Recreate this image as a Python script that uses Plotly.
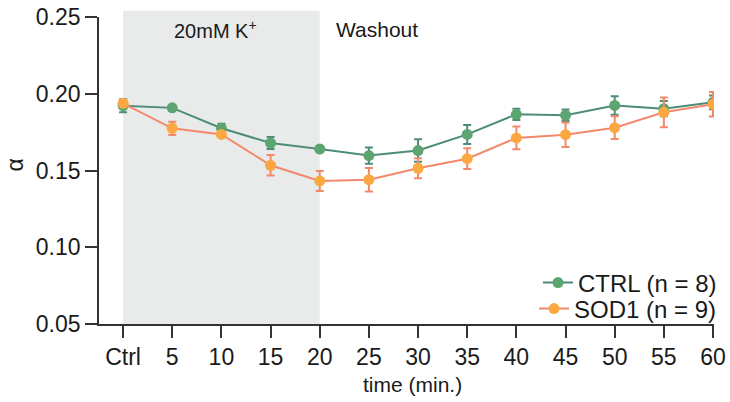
import plotly.graph_objects as go

tick_labels = ["Ctrl", "5", "10", "15", "20", "25", "30", "35", "40", "45", "50", "55", "60"]
x_pos = list(range(len(tick_labels)))

ctrl_mean = [0.1922, 0.1908, 0.1775, 0.1679, 0.1640, 0.1597, 0.1630, 0.1735, 0.1866, 0.1860, 0.1924, 0.1903, 0.1944]
ctrl_err = [0.0042, 0.0008, 0.0030, 0.0039, 0.0012, 0.0053, 0.0073, 0.0062, 0.0037, 0.0038, 0.0060, 0.0050, 0.0045]
sod_mean = [0.1938, 0.1775, 0.1735, 0.1534, 0.1432, 0.1440, 0.1514, 0.1577, 0.1712, 0.1733, 0.1779, 0.1879, 0.1931]
sod_err = [0.0022, 0.0043, 0.0015, 0.0067, 0.0065, 0.0076, 0.0065, 0.0068, 0.0074, 0.0080, 0.0074, 0.0097, 0.0080]

ctrl_line = "#4d8c78"
ctrl_marker = "#5ca570"
sod_line = "#f4886b"
sod_marker = "#fba840"
FONT = "Liberation Sans, Arial, sans-serif"

fig = go.Figure()
fig.add_trace(go.Scatter(
    x=x_pos, y=ctrl_mean, mode="lines+markers", name="CTRL (n = 8)", legend="legend",
    line=dict(color=ctrl_line, width=2),
    marker=dict(color=ctrl_marker, size=11),
    error_y=dict(type="data", array=ctrl_err, color=ctrl_line, thickness=2, width=4),
))
fig.add_trace(go.Scatter(
    x=x_pos, y=sod_mean, mode="lines+markers", name="SOD1 (n = 9)", legend="legend2",
    line=dict(color=sod_line, width=2),
    marker=dict(color=sod_marker, size=11),
    error_y=dict(type="data", array=sod_err, color=sod_line, thickness=2, width=4),
))

fig.add_shape(type="rect", xref="x", yref="paper", x0=0, x1=4, y0=0, y1=1.02,
              fillcolor="#e9ebeb", line=dict(width=0), layer="below")

top_px, bot_px = 17, 324
def py(p):
    return (bot_px - p) / (bot_px - top_px)

fig.add_annotation(x=1.87, y=py(29), xref="x", yref="paper", yanchor="middle",
                   text="20mM K<sup>+</sup>", showarrow=False, font=dict(size=20, color="#1a1a1a"))
fig.add_annotation(x=4.3, y=py(29), xref="x", yref="paper", xanchor="left", yanchor="middle",
                   text="Washout", showarrow=False, font=dict(size=21, color="#1a1a1a"))
# axis titles
fig.add_annotation(x=5.89, y=0, xref="x", yref="paper", yanchor="middle", yshift=-60,
                   text="time (min.)", showarrow=False, font=dict(size=21, color="#1a1a1a"))
fig.add_annotation(x=0, y=0.5, xref="paper", yref="paper", xanchor="center", xshift=-85,
                   yshift=5, text="α", textangle=-90, showarrow=False,
                   font=dict(size=23, color="#1a1a1a"))

leg_common = dict(xanchor="right", yanchor="middle", bgcolor="rgba(0,0,0,0)",
                  font=dict(size=24), borderwidth=0)

fig.update_layout(
    width=730, height=402,
    margin=dict(l=99, r=16, t=17, b=78, autoexpand=False),
    plot_bgcolor="white", paper_bgcolor="white",
    font=dict(family=FONT, size=23, color="#1a1a1a"),
    showlegend=True,
    legend=dict(x=1.013, y=py(283), **leg_common),
    legend2=dict(x=1.013, y=py(309), **leg_common),
    xaxis=dict(range=[-0.49, 12.02], tickvals=x_pos, ticktext=tick_labels, automargin=False,
               showline=True, linecolor="#333", linewidth=1.6, ticks="outside",
               ticklen=12, tickwidth=1.6, tickcolor="#333", showgrid=False, zeroline=False,
               tickfont=dict(size=23)),
    yaxis=dict(range=[0.05, 0.25], tickvals=[0.05, 0.10, 0.15, 0.20, 0.25], automargin=False,
               ticktext=["0.05", "0.10", "0.15", "0.20", "0.25"],
               showline=True, linecolor="#333", linewidth=1.6, ticks="outside",
               ticklen=12, tickwidth=1.6, tickcolor="#333", showgrid=False, zeroline=False,
               tickfont=dict(size=23)),
)

fig.write_html("out.html", config={"displayModeBar": False},
               post_script="document.body.style.margin='0';document.body.style.overflow='hidden';")
